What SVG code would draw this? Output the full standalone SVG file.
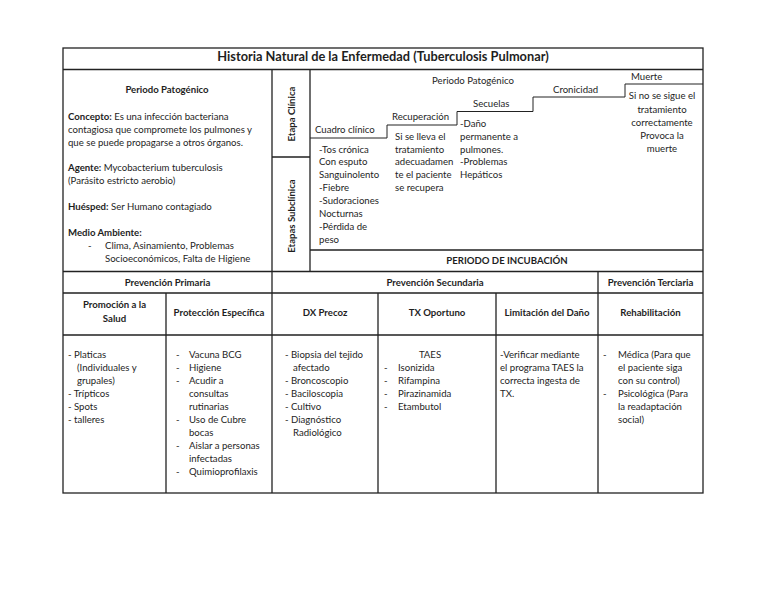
<svg xmlns="http://www.w3.org/2000/svg" width="768" height="594" viewBox="0 0 768 594">
<style>
text{font-family:Lato,"Open Sans","Liberation Sans",sans-serif;fill:#1e1e1e;font-size:9.6px}
.b{font-weight:bold}
.c{text-anchor:middle}
.t{font-size:12.8px;font-weight:bold}
.g{stroke:#222;stroke-width:1.3;fill:none}
.s{stroke:#222;stroke-width:1;fill:none}
</style>
<rect width="768" height="594" fill="#fff"/>
<g id="grid">
<rect class="g" x="63" y="48" width="640" height="445"/>
<path class="g" d="M63,69.5H703 M272,69.5V493 M310,69.5V271.5 M272,157H310 M310,250H703 M63,271.5H703 M63,293H703 M63,335H703 M166,293V493 M378,293V493 M496,293V493 M598,271.5V493"/>
</g>
<g id="connectors">
<path class="s" d="M310,138H387V125H457V111.5H533V97H625V84H703"/>
</g>
<g id="title"><text class="t c" x="383" y="61">Historia Natural de la Enfermedad (Tuberculosis Pulmonar)</text></g>
<g id="periodo-patogenico-left">
<text class="b c" x="167" y="93">Periodo Patogénico</text>
<text x="68" y="120"><tspan class="b">Concepto:</tspan> Es una infección bacteriana</text>
<text x="68" y="133">contagiosa que compromete los pulmones y</text>
<text x="68" y="146">que se puede propagarse a otros órganos.</text>
<text x="68" y="171"><tspan class="b">Agente:</tspan> Mycobacterium tuberculosis</text>
<text x="68" y="184">(Parásito estricto aerobio)</text>
<text x="68" y="210"><tspan class="b">Huésped:</tspan> Ser Humano contagiado</text>
<text class="b" x="68" y="236">Medio Ambiente:</text>
<text x="88" y="249">-</text>
<text x="105" y="249">Clima, Asinamiento, Problemas</text>
<text x="105" y="262">Socioeconómicos, Falta de Higiene</text>
</g>
<g id="etapa-clinica"><text class="b" transform="translate(295,114) rotate(-90)" text-anchor="middle">Etapa Clínica</text></g>
<g id="etapas-subclinica"><text class="b" transform="translate(295,216) rotate(-90)" text-anchor="middle">Etapas Subclínica</text></g>
<g id="periodo-patogenico-right"><text class="c" x="473" y="84">Periodo Patogénico</text></g>
<g id="cuadro-clinico">
<text x="315" y="133">Cuadro clínico</text>
<text x="319" y="153">-Tos crónica</text>
<text x="319" y="165">Con esputo</text>
<text x="319" y="178">Sanguinolento</text>
<text x="319" y="191">-Fiebre</text>
<text x="319" y="204">-Sudoraciones</text>
<text x="319" y="217">Nocturnas</text>
<text x="319" y="230">-Pérdida de</text>
<text x="319" y="243">peso</text>
</g>
<g id="recuperacion">
<text x="392" y="120">Recuperación</text>
<text x="395" y="140">Si se lleva el</text>
<text x="395" y="153">tratamiento</text>
<text x="395" y="165">adecuadamen</text>
<text x="395" y="178">te el paciente</text>
<text x="395" y="191">se recupera</text>
</g>
<g id="secuelas">
<text x="473" y="107">Secuelas</text>
<text x="460" y="127">-Daño</text>
<text x="460" y="140">permanente a</text>
<text x="460" y="153">pulmones.</text>
<text x="460" y="165">-Problemas</text>
<text x="460" y="178">Hepáticos</text>
</g>
<g id="cronicidad"><text x="553" y="93">Cronicidad</text></g>
<g id="muerte">
<text x="631" y="80">Muerte</text>
<text class="c" x="662" y="99">Si no se sigue el</text>
<text class="c" x="662" y="113">tratamiento</text>
<text class="c" x="662" y="126">correctamente</text>
<text class="c" x="662" y="139">Provoca la</text>
<text class="c" x="662" y="152">muerte</text>
</g>
<g id="incubacion"><text class="b c" x="507" y="264">PERIODO DE INCUBACIÓN</text></g>
<g id="prevencion-primaria"><text class="b c" x="167.5" y="286">Prevención Primaria</text></g>
<g id="prevencion-secundaria"><text class="b c" x="435" y="286">Prevención Secundaria</text></g>
<g id="prevencion-terciaria"><text class="b c" x="650.5" y="286">Prevención Terciaria</text></g>
<g id="promocion">
<text class="b c" x="114.5" y="308">Promoción a la</text>
<text class="b c" x="114.5" y="322">Salud</text>
<text x="68" y="358">- Platicas</text>
<text x="77" y="371">(Individuales y</text>
<text x="77" y="384">grupales)</text>
<text x="68" y="397">- Trípticos</text>
<text x="68" y="410">- Spots</text>
<text x="68" y="423">- talleres</text>
</g>
<g id="proteccion">
<text class="b c" x="219" y="316">Protección Específica</text>
<text x="176" y="358">-</text><text x="189" y="358">Vacuna BCG</text>
<text x="176" y="371">-</text><text x="189" y="371">Higiene</text>
<text x="176" y="384">-</text><text x="189" y="384">Acudir a</text>
<text x="189" y="397">consultas</text>
<text x="189" y="410">rutinarias</text>
<text x="176" y="423">-</text><text x="189" y="423">Uso de Cubre</text>
<text x="189" y="436">bocas</text>
<text x="176" y="449">-</text><text x="189" y="449">Aislar a personas</text>
<text x="189" y="462">infectadas</text>
<text x="176" y="475">-</text><text x="189" y="475">Quimioprofilaxis</text>
</g>
<g id="dx-precoz">
<text class="b c" x="325" y="316">DX Precoz</text>
<text x="285" y="358">- Biopsia del tejido</text>
<text x="293" y="371">afectado</text>
<text x="285" y="384">- Broncoscopio</text>
<text x="285" y="397">- Baciloscopia</text>
<text x="285" y="410">- Cultivo</text>
<text x="285" y="423">- Diagnóstico</text>
<text x="293" y="436">Radiológico</text>
</g>
<g id="tx-oportuno">
<text class="b c" x="437" y="316">TX Oportuno</text>
<text class="c" x="430" y="358">TAES</text>
<text x="384" y="371">-</text><text x="398" y="371">Isonizida</text>
<text x="384" y="384">-</text><text x="398" y="384">Rifampina</text>
<text x="384" y="397">-</text><text x="398" y="397">Pirazinamida</text>
<text x="384" y="410">-</text><text x="398" y="410">Etambutol</text>
</g>
<g id="limitacion">
<text class="b c" x="547" y="316">Limitación del Daño</text>
<text x="500" y="358">-Verificar mediante</text>
<text x="500" y="371">el programa TAES la</text>
<text x="500" y="384">correcta ingesta de</text>
<text x="500" y="397">TX.</text>
</g>
<g id="rehabilitacion">
<text class="b c" x="650.5" y="316">Rehabilitación</text>
<text x="603" y="358">-</text><text x="618" y="358">Médica (Para que</text>
<text x="618" y="371">el paciente siga</text>
<text x="618" y="384">con su control)</text>
<text x="603" y="397">-</text><text x="618" y="397">Psicológica (Para</text>
<text x="618" y="410">la readaptación</text>
<text x="618" y="423">social)</text>
</g>
</svg>
